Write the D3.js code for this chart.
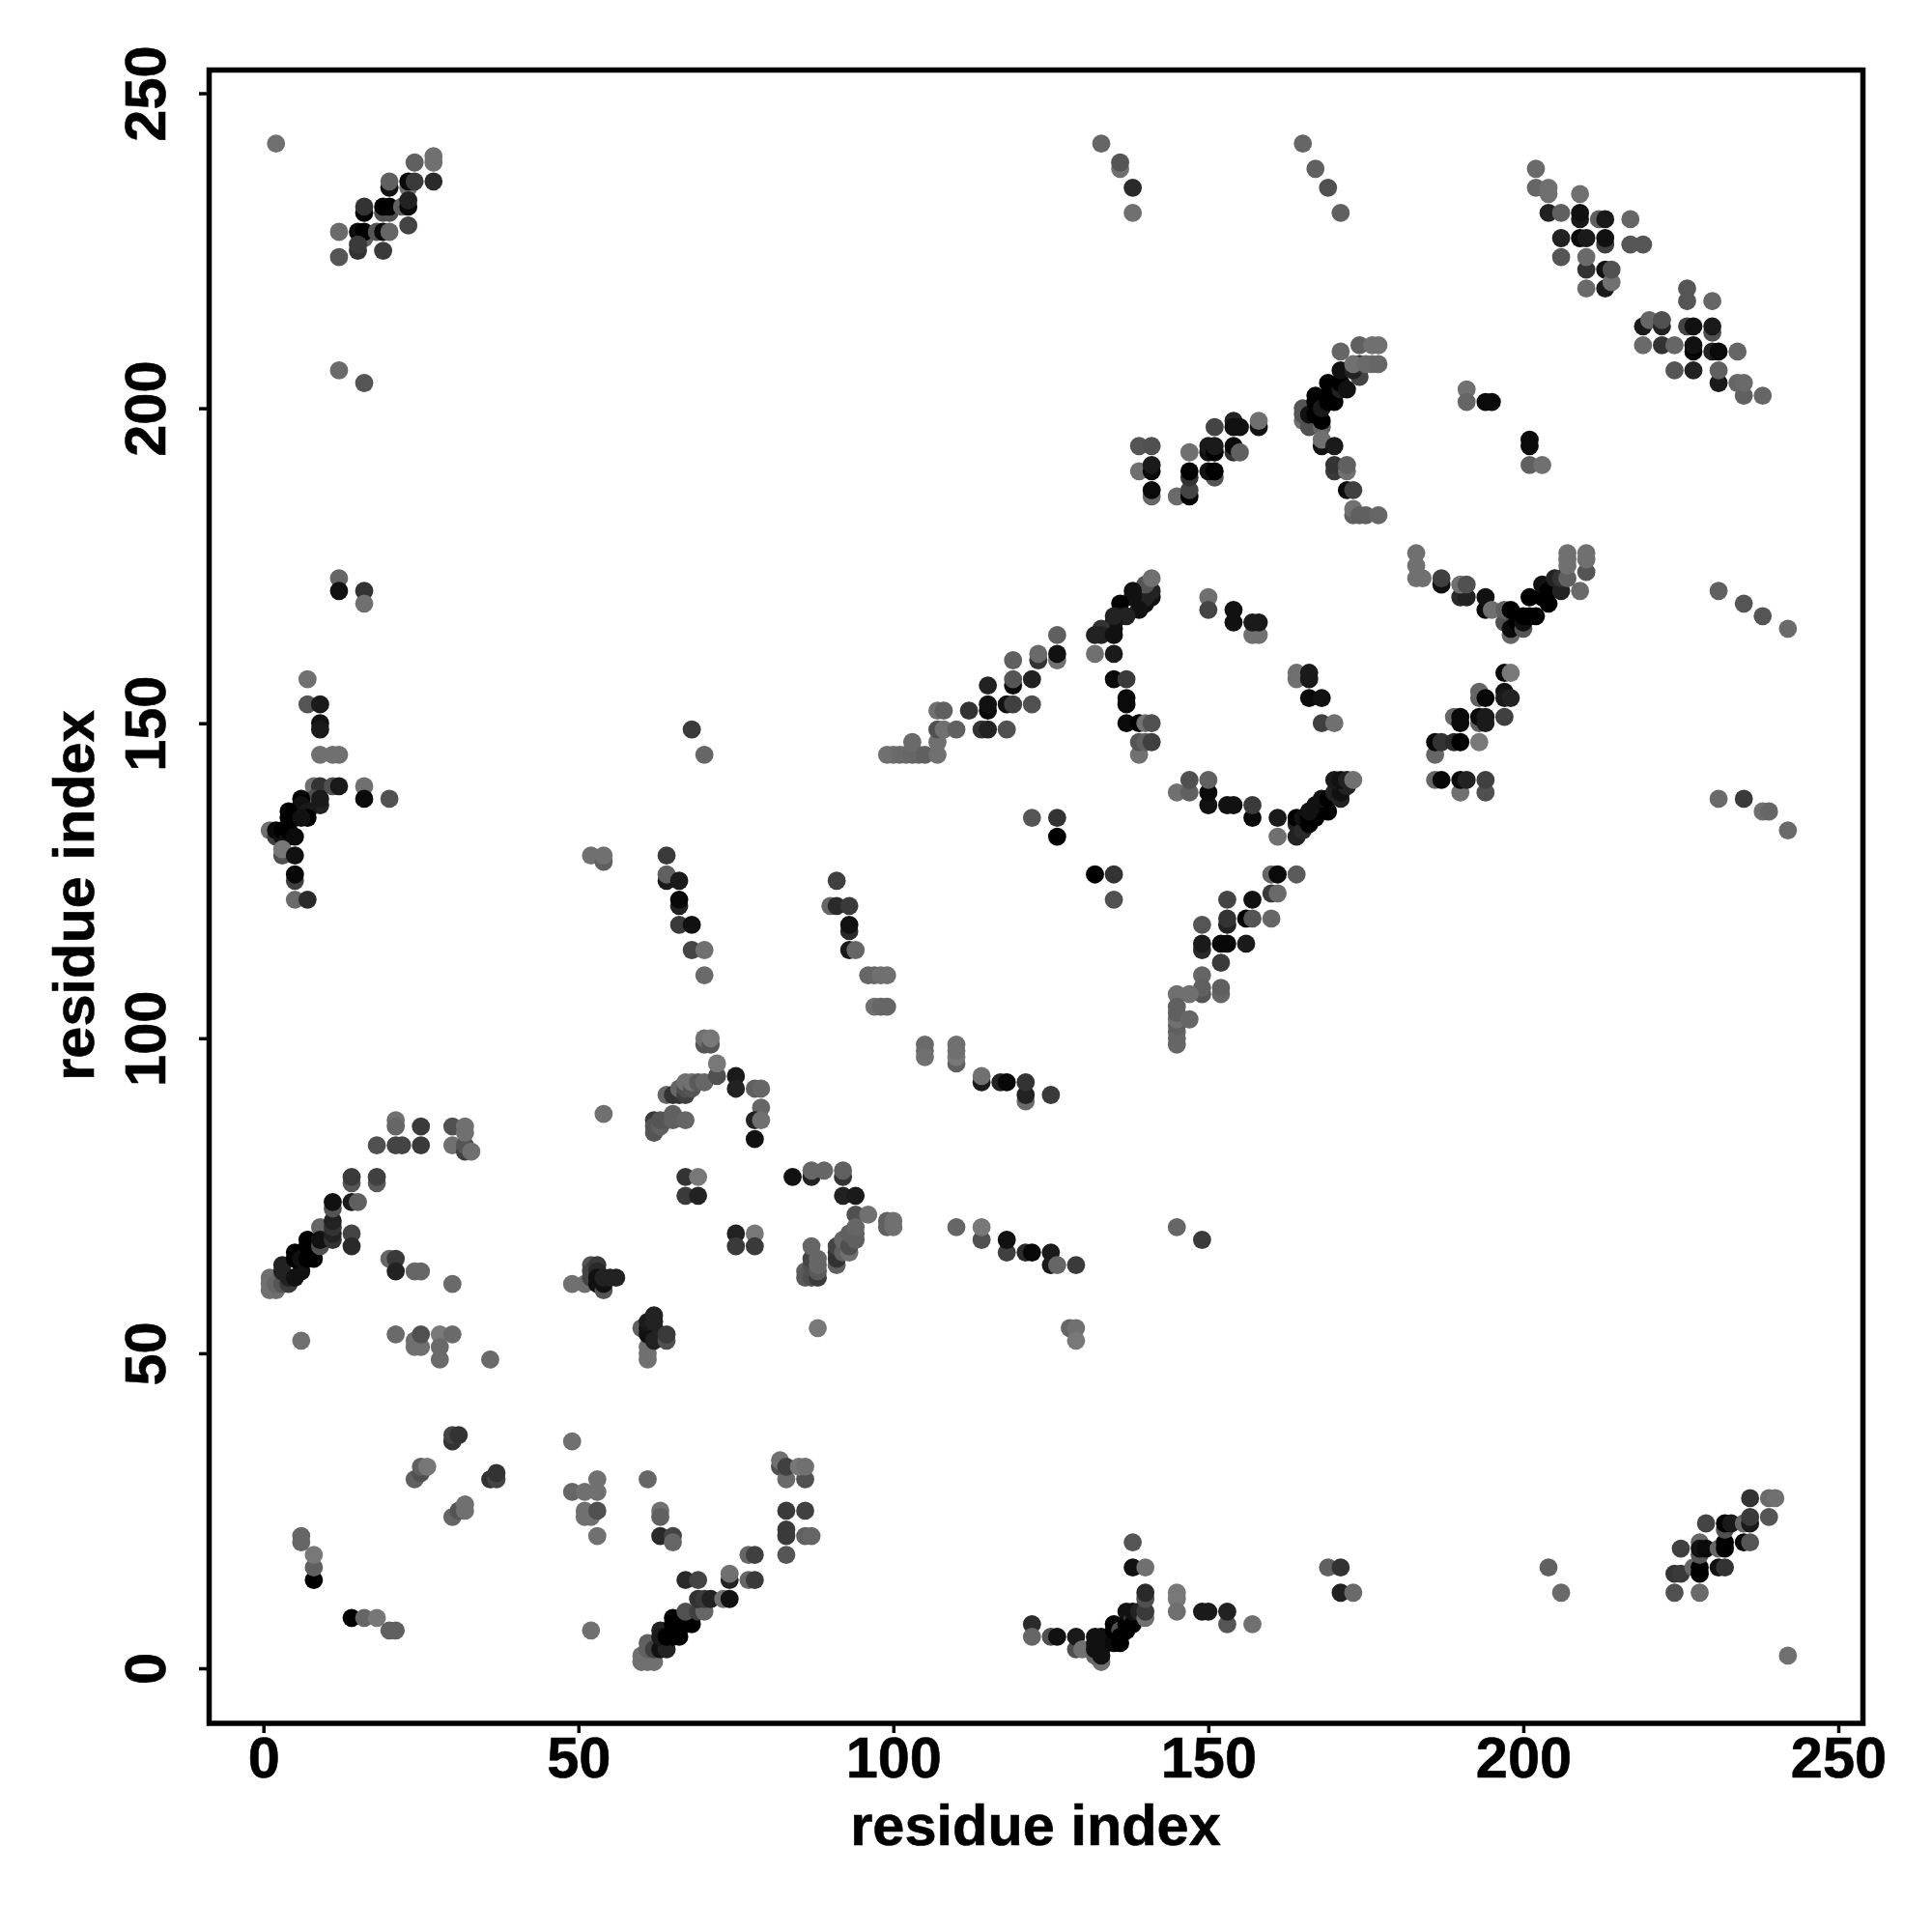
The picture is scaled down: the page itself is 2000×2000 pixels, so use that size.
<!DOCTYPE html>
<html><head><meta charset="utf-8">
<script src="https://cdn.jsdelivr.net/npm/d3@7"></script>
<style>html,body{margin:0;padding:0;background:#fff}svg{display:block}</style>
</head><body><svg id="c" width="2000" height="2000"></svg>
<script>
// each contact: [residue i, residue j, grey level]
const bottomLeft=[[8,14,0],[8,16,0x60],[8,18,0x78],[6,21,0x66],[6,20,0x66],[14,8,0],[16,8,0x66],[18,8,0x77],[20,6,0x60],[21,6,0x60],
[24,30,0x60],[25,31,0x50],[25,32,0x60],[26,32,0x77],[30,24,0x66],[31,25,0x55],[32,26,0x70],[32,25,0x70],[30,36,0x33],[30,37,0x44],[31,37,0x33],[36,30,0x33],[37,30,0x44],[37,31,0x33],
[49,28,0x66],[49,36,0x70],[51,28,0x70],[53,28,0x70],[53,30,0x70],[51,25,0x70],[51,24,0x70],[52,24,0x70],[53,25,0x50],[53,21,0x70],[52,6,0x70],
[61,30,0x66],[63,25,0x70],[63,24,0x60],[63,21,0x2a],[65,21,0x44],[65,20,0x66]];
const diagBottom=[[60,1,0x70],[61,1,0x70],[62,1,0x70],[60,2,0x70],[61,4,0x60],[61,3,0x60],[62,3,0x40],[63,3,0x11],[64,3,0x22],[63,6,0x22],[63,5,0x1a],[64,5,0],[65,5,0],[66,5,0],[65,8,0],[65,7,0],[66,7,0],[67,7,0],[68,7,0],[68,8,0],[67,9,0x50],[69,9,0x40],[70,9,0x66],
[69,11,0x33],[70,11,0x3a],[71,11,0x22],[73,11,0x70],[74,11,0x11],[67,14,0x2a],[69,14,0x44],[74,14,0x22],[74,15,0x70],[77,18,0x66],[78,18,0x40],[77,14,0x66],[78,14,0x3a]];
const row50=[[6,52,0x70],[21,53,0x6a],[24,52,0x70],[24,51,0x70],[25,51,0x70],[25,53,0x50],[28,53,0x78],[30,53,0x6a],[28,51,0x6a],[28,49,0x6a],[36,49,0x6a],
[61,49,0x70],[61,50,0x70],[61,51,0x70],[60,54,0x60],[61,54,0x11],[61,53,0x11],[62,54,0x11],[62,53,0x11],[62,52,0x22],[61,55,0x1a],[62,55,0x22],[62,56,0x22],[63,53,0x22],[64,52,0x50],[64,53,0x3a]];
const diagLeft=[[1,62,0x70],[1,61,0x70],[1,60,0x70],[2,60,0x70],[2,61,0x66],[3,61,0x55],[4,61,0x3a],[3,64,0x22],[3,63,0x22],[4,62,0x22],[5,62,0x11],[6,63,0x11],[5,66,0],[5,65,0],[6,65,0x11],[7,65,0],[8,65,0],[7,68,0],[7,67,0],[8,67,0],[9,67,0x50],[9,70,0x66],[9,68,0x11],
[11,68,0x33],[11,69,0x22],[11,70,0x33],[11,71,0x22],[11,73,0x55],[11,74,0x11],[14,74,0x1a],[15,74,0x60],[14,69,0x44],[14,67,0x2a],[14,77,0x55],[14,78,0x3a],[18,77,0x5a],[18,78,0x40],
[18,83,0x50],[21,83,0x44],[22,83,0x44],[25,83,0x3a],[25,86,0x3a],[21,87,0x70],[21,86,0x66],[30,86,0x50],[30,83,0x70],[32,82,0x40],[32,83,0x55],[33,82,0x70],[32,86,0x70],[32,85,0x70],
[20,65,0x66],[21,65,0x3a],[21,63,0x22],[24,63,0x66],[25,63,0x66],[30,61,0x6a]];
const cluster60=[[49,61,0x70],[51,61,0x70],[52,64,0x55],[52,63,0x44],[52,62,0x44],[53,64,0x3a],[53,63,0x2a],[53,61,0x11],[54,60,0x55],[54,61,0x11],[53,62,0x11],[54,62,0x22],[55,62,0x22],[56,62,0x22],
[54,88,0x70],[62,87,0x3a],[62,85,0x55],[62,86,0x55],[63,86,0x60],[63,87,0x55],[64,87,0x55],[65,88,0x60],[65,87,0x60],[67,87,0x66],
[64,91,0x66],[65,91,0x33],[66,91,0x33],[66,92,0x66],[67,91,0x40],[67,92,0x50],[67,93,0x70],[68,92,0x55],[68,93,0x70],[69,93,0x5a],[70,93,0x66],[72,94,0x50],[72,96,0x78],[70,99,0x55],[70,100,0x70],[71,99,0x55],[71,100,0x78],
[75,94,0x1a],[75,92,0x22],[78,92,0x60],[79,92,0x66],[79,89,0x66],[78,87,0x22],[79,87,0x70],[78,84,0x11],[67,78,0x33],[69,78,0x78],[67,75,0x3a],[69,75,0x22],[75,69,0x22],[78,69,0x78],[75,67,0x3a],[78,67,0x3a]];
const middle=[[70,110,0x6a],[96,110,0x66],[97,110,0x66],[98,110,0x70],[99,110,0x70],[97,105,0x70],[98,105,0x66],[99,105,0x66],[105,99,0x6a],[105,98,0x6a],[105,97,0x70],[110,96,0x60],[110,97,0x78],[110,98,0x70],[110,99,0x70],
[114,93,0x1a],[114,94,0x70],[117,93,0x22],[118,93,0x08],[121,90,0x6a],[121,91,0x22],[121,93,0x33],[125,91,0x3a],
[84,78,0x11],[87,78,0x22],[87,79,0x66],[89,79,0x66],[92,78,0x33],[92,79,0x60],[92,75,0x22],[94,75,0x1a],[94,72,0x50],[96,72,0x70],[99,71,0x60],[99,70,0x60],[100,71,0x70],[100,70,0x70],
[86,63,0x60],[86,62,0x5a],[87,62,0x50],[87,64,0x50],[87,65,0x44],[87,67,0x66],[88,62,0x3a],[88,63,0x5a],[88,64,0x66],[88,65,0x66],[91,64,0x60],[91,65,0x33],[91,66,0x33],[91,67,0x44],[92,66,0x60],[92,68,0x66],[93,66,0x70],[93,67,0x50],[93,69,0x60],[94,68,0x60],[94,69,0x60],[94,70,0x66],
[110,70,0x66],[114,68,0x50],[114,70,0x78],[118,66,0x40],[118,68,0x11],[121,66,0x2a],[122,66,0x08],[125,66,0x1a],[125,64,0x1a],[126,64,0x66],[129,64,0x3a],
[88,54,0x78],[128,54,0x66],[129,54,0x70],[129,52,0x78],[145,70,0x66],[149,68,0x3a]];
const bottomMid=[[83,25,0x3a],[86,25,0x40],[83,22,0x3a],[83,21,0x3a],[83,18,0x55],[86,21,0x60],[87,21,0x66],[82,32,0x50],[82,33,0x70],[83,30,0x6a],[83,32,0x40],[86,30,0x50],[85,32,0x78],[86,32,0x70],
[122,7,0x2a],[122,5,0x66],[125,5,0x50],[126,5,0x11],[129,3,0x50],[129,5,0x1a],[130,3,0x70],[133,1,0x70],[132,2,0x66],[132,3,0x11],[132,4,0x11],[132,5,0x11],[133,2,0x11],[133,3,0x11],[133,5,0x11],
[135,4,0x0a],[135,6,0],[135,7,0],[136,6,0x50],[136,4,0],[136,5,0],[137,6,0],[137,7,0],[137,9,0x11],[138,8,0x40],[138,7,0],[138,9,0x11],[139,9,0x22],[140,8,0x70],[140,9,0x3a],[140,11,0x50],[140,12,0x2a],[138,20,0x55],[138,16,0x11],[140,16,0x70],
[145,12,0x78],[145,11,0x78],[145,9,0x70],[149,9,0x1a],[150,9,0x1a],[153,7,0x55],[153,9,0x22],[157,7,0x70],[169,16,0x60],[171,16,0x33],[171,12,0x22],[173,12,0x6a]];
const bottomRight=[[204,16,0x60],[206,12,0x6a],[224,12,0x50],[228,12,0x6a],[224,15,0x33],[225,15,0x3a],[225,19,0x40],[227,16,0x66],[228,15,0],[228,16,0],[228,20,0x66],[228,18,0x55],[228,19,0x11],[229,19,0x0a],[229,23,0x44],[231,16,0x11],[232,16,0x33],[231,19,0x66],[232,19,0],[232,20,0],[232,22,0x50],[232,23,0],[233,23,0x1a],[235,23,0x66],[235,20,0x0a],[236,20,0x55],[236,23,0x1a],[236,24,0x3a],[236,27,0x33],[239,24,0x55],[239,27,0x6a],[240,27,0x70],[242,2,0x70]];
const left135=[[7,157,0x70],[7,153,0x55],[9,153,0x1a],[9,150,0x11],[9,149,0x1a],[9,145,0x70],[11,145,0x70],[12,145,0x70],[8,140,0x70],[9,140,0x33],[11,140,0x50],[12,140,0x1a],[16,140,0x70],[16,138,0x0a],[20,138,0x50],
[8,138,0x50],[8,137,0x50],[9,137,0x22],[9,138,0x1a],[6,138,0],[6,137,0x11],[7,136,0x1a],[7,135,0],[4,136,0],[4,135,0],[5,135,0],[6,135,0x11],[1,133,0x70],[2,132,0x40],[2,133,0x0a],[3,132,0x11],[3,133,0],[4,132,0x11],[4,133,0],[5,132,0x0a],
[3,129,0x50],[3,130,0x78],[5,129,0x11],[5,125,0x40],[5,126,0x08],[5,122,0x6a],[7,122,0x2a],
[52,129,0x70],[54,128,0x60],[54,129,0x70],[64,129,0x3a],[64,125,0x1a],[64,126,0x60],[66,125,0x1a],[66,121,0x22],[66,122,0x08],[66,118,0x3a],[68,118,0x11],[68,114,0x44],[70,114,0x70],[68,149,0x3a],[70,145,0x66]];
const center=[[91,125,0x40],[90,121,0x66],[91,121,0x2a],[93,121,0x3a],[93,117,0x2a],[93,118,0x11],[93,114,0x1a],[94,114,0x66],
[99,145,0x70],[100,145,0x70],[101,145,0x6a],[102,145,0x6a],[103,145,0x66],[104,145,0x66],[105,145,0x60],[107,145,0x70],[103,147,0x6a],[107,147,0x70],[107,149,0x50],[108,149,0x70],[110,149,0x60],[107,152,0x70],[108,152,0x60],
[112,152,0x33],[115,152,0x0a],[115,153,0x11],[115,156,0x22],[114,149,0x33],[115,149,0x22],[118,149,0x50],[118,153,0x11],[119,153,0x40],[122,153,0x50],[119,156,0x0a],[119,157,0x55],[122,157,0x22],[119,160,0x60],[123,160,0x33],[123,161,0x6a],[126,160,0x70],[126,161,0x11],[126,164,0x60],
[122,135,0x55],[126,135,0x33],[126,132,0],[132,126,0],[135,126,0x33],[135,122,0x50],
[135,157,0x0a],[137,157,0x3a],[137,153,0x0a],[137,154,0x0a],[137,150,0x0a],[139,150,0],[140,150,0x70],[141,150,0x50],[139,145,0x70],[139,147,0x55],[140,147,0x60],[141,147,0x40],
[145,139,0x70],[147,139,0x60],[147,141,0x50],[150,137,0x11],[150,139,0x0a],[150,141,0x60],[153,137,0x11],[154,137,0x11],[157,135,0x0a],[157,137,0x3a],[161,132,0x70],[161,135,0x1a],
[164,132,0x22],[164,134,0x22],[164,135,0],[165,133,0x2a],[165,135,0x11],[166,134,0],[166,135,0],[167,135,0],[166,136,0x11],[167,137,0x11],[169,136,0],[168,138,0x11],[169,138,0],[170,139,0x22],[171,138,0x22],[171,139,0x11],[172,140,0x22],[170,141,0x1a],[171,141,0x11],[172,141,0x22],[173,141,0x70],
[149,118,0x55],[149,114,0x2a],[149,115,0x1a],[152,115,0x0a],[153,115,0x08],[156,115,0x1a],[152,112,0x3a],[153,122,0x44],[157,122,0x11],[153,118,0x22],[153,119,0x33],[156,119,0],[157,119,0x55],[160,119,0x66],[160,123,0x3a],[161,123,0x6a],[160,126,0x66],[161,126,0x0a],[164,126,0x5a],
[149,110,0x66],[152,107,0x66],[152,108,0x60],[149,107,0x55],[149,108,0x60],[145,107,0x70],[147,107,0x70],[145,99,0x66],[145,100,0x66],[145,101,0x66],[145,102,0x60],[145,103,0x70],[145,104,0x60],[145,105,0x60],[147,103,0x66],
[164,157,0x70],[164,158,0x70],[166,157,0x1a],[166,158,0x1a],[166,154,0x0a],[168,154,0x11],[168,150,0x40],[170,150,0x70]];
const upperMid=[[141,170,0x11],[141,171,0x22],[140,169,0x11],[140,170,0x22],[140,172,0x55],[141,173,0x70],[138,170,0x11],[138,171,0x11],[139,168,0x11],[136,169,0],[136,167,0x11],[137,167,0x22],[135,165,0x0a],[135,166,0x11],[135,167,0x22],[133,165,0x33],[133,164,0x22],[132,164,0x22],[135,164,0x11],[132,161,0x70],[135,161,0x1a],
[150,170,0x70],[150,168,0x44],[154,168,0x11],[154,166,0x11],[157,164,0x70],[158,164,0x70],[157,166,0x1a],[158,166,0x1a],
[139,194,0x55],[141,194,0x50],[139,190,0x70],[141,190,0x0a],[141,191,0x1a],[141,186,0x66],[141,187,0x0a],[145,186,0x6a],[147,186,0],[147,187,0x44],[147,189,0x33],[147,190,0],[147,193,0x70],[150,193,0x11],[150,194,0x1a],[151,189,0x55],[150,190,0x11],[151,190,0],[151,193,0],[151,194,0x1a],[151,197,0x44],[154,198,0x22],[154,197,0x11],[155,197,0x11],[154,193,0x33],[154,194,0x0a],[155,193,0x60],[158,197,0x11],[158,198,0x70]];
const arcUpper=[[165,198,0x70],[165,199,0x55],[165,200,0x55],[166,197,0x50],[166,199,0x11],[167,199,0],[167,201,0],[167,202,0],[168,197,0x66],[168,198,0],[168,200,0x1a],[169,201,0],[169,202,0],[169,204,0],[170,201,0],[171,203,0x22],[171,204,0],[171,206,0x11],[172,203,0x11],[174,205,0x44],[173,206,0x22],[174,207,0x33],[173,207,0x70],[175,207,0x6a],[176,207,0x6a],[177,207,0x66],[171,209,0x66],[174,210,0x60],[176,210,0x70],[177,210,0x70],
[168,194,0x11],[168,195,0x70],[170,194,0x1a],[170,190,0x3a],[170,191,0x33],[172,190,0x70],[172,191,0x60],[172,187,0x0a],[173,187,0x40],[173,183,0x60],[173,184,0x70],[174,183,0x60],[175,183,0x60],[177,183,0x66],
[191,203,0x70],[191,201,0x66],[194,201,0x0a],[195,201,0x0a],[201,195,0x0a],[201,194,0x0a],[201,191,0x60],[203,191,0x70]];
const arcV=[[183,177,0x70],[183,175,0x70],[183,173,0x70],[184,173,0x70],[187,172,0x11],[187,173,0x40],[190,170,0x2a],[191,170,0x22],[190,172,0x70],[191,172,0x50],[194,168,0x0a],[194,170,0x11],[195,168,0x70],[198,164,0x66],[197,166,0x50],[197,168,0x60],[198,165,0x0a],[198,168,0],[199,166,0],[200,165,0x55],[200,166,0x11],[200,167,0],[201,167,0],[201,170,0],[202,167,0],[203,170,0],[203,172,0x11],[204,169,0],[204,171,0],[206,171,0x22],[205,173,0x22],[206,173,0x33],[209,171,0x6a],[207,173,0x60],[207,175,0x70],[207,176,0x70],[207,177,0x70],[210,174,0x55],[210,176,0x70],[210,177,0x70],
[197,158,0x0a],[198,158,0x78],[193,154,0x60],[193,155,0x66],[194,154,0x08],[197,155,0x11],[197,154,0x1a],[198,154,0x22],[197,151,0x40],[189,151,0x66],[190,150,0x0a],[190,151,0x0a],[193,150,0x60],[193,151,0x0a],[194,150,0x1a],[194,151,0x1a],[186,145,0x66],[186,147,0x08],[187,147,0x33],[189,147,0x2a],[190,147,0],[193,147,0x78],[186,141,0x66],[187,141,0x08],[190,139,0x70],[190,141,0x0a],[191,141,0x22],[194,139,0x50],[194,141,0x40],
[231,171,0x60],[235,169,0x55],[238,167,0x55],[242,165,0x6a],[231,138,0x6a],[235,138,0x3a],[238,136,0x70],[239,136,0x66],[242,133,0x6a]];
const topRight=[[202,238,0x6a],[202,235,0x66],[204,234,0x70],[204,235,0x70],[209,234,0x70],[204,231,0x22],[206,231,0x60],[209,230,0x1a],[209,231,0x11],[212,230,0x60],[213,230,0x1a],[217,230,0x66],[206,227,0x22],[209,227,0x0a],[210,227,0x1a],[213,226,0x40],[213,227,0x11],[217,226,0x55],[219,226,0x55],[206,224,0x55],[210,222,0x33],[210,224,0x6a],[213,222,0x11],[213,219,0x1a],[214,220,0x70],[214,222,0x50],[210,219,0x6a],
[226,219,0x55],[226,217,0x55],[230,217,0x66],[219,213,0x1a],[220,214,0x66],[222,213,0x22],[222,214,0x50],[226,213,0x44],[227,213,0x11],[230,212,0x50],[230,213,0x1a],[219,210,0x6a],[222,210,0x33],[224,210,0x66],[227,209,0],[227,210,0x11],[230,209,0x22],[231,209,0x0a],[234,209,0x66],[224,206,0x55],[227,206,0x22],[231,204,0x1a],[231,206,0x60],[234,204,0x66],[235,202,0x60],[235,204,0x6a],[238,202,0x66]];
const topLeft=[[2,242,0x70],[12,206,0x6a],[16,204,0x55],[12,173,0x66],[12,171,0x11],[16,171,0x33],[16,169,0x70],
[12,228,0x6a],[12,224,0x55],[15,228,0x0a],[16,227,0x60],[16,228,0],[15,225,0x33],[15,226,0x3a],[16,231,0],[16,232,0x33],[19,231,0x50],[20,231,0x50],[19,232,0],[20,232,0],[18,228,0x55],[19,228,0x0a],[20,228,0x66],[19,225,0x3a],[20,235,0x11],[20,236,0x60],[23,235,0x70],[23,236,0x0a],[24,236,0x3a],[22,232,0x60],[23,232,0x0a],[23,233,0x22],[23,229,0x44],[24,239,0x60],[27,236,0x2a],[27,239,0x70],[27,240,0x70]];
const topMid=[[133,242,0x66],[136,238,0x70],[136,239,0x55],[138,235,0x2a],[138,231,0x70],[165,242,0x66],[167,238,0x60],[169,235,0x50],[171,231,0x60]];

const groups=[bottomLeft,diagBottom,row50,diagLeft,cluster60,middle,bottomMid,bottomRight,left135,center,upperMid,arcUpper,arcV,topRight,topLeft,topMid];
const tickValues=[0,50,100,150,200,250];
const axisTitle="residue index";

const x=d3.scaleLinear().domain([0,250]).range([272.7,1903]);
const y=d3.scaleLinear().domain([0,250]).range([1727,96.5]);
const svg=d3.select("#c");
svg.append("g").selectAll("circle").data(groups.flat()).join("circle")
  .attr("cx",d=>x(d[0])).attr("cy",d=>y(d[1])).attr("r",9.4)
  .attr("fill",d=>d3.rgb(d[2],d[2],d[2]).formatHex());
svg.append("rect").attr("x",216.5).attr("y",72.5).attr("width",1712).attr("height",1711.5)
  .attr("fill","none").attr("stroke","#000").attr("stroke-width",5.5);
const font="'Liberation Sans',Arial,sans-serif";
const fontSize=59.5;
const ax=svg.append("g").attr("transform","translate(0,1786)")
  .call(d3.axisBottom(x).tickValues(tickValues).tickSize(8).tickPadding(0));
const ay=svg.append("g").attr("transform","translate(214,0)")
  .call(d3.axisLeft(y).tickValues(tickValues).tickSize(8).tickPadding(0));
[ax,ay].forEach(a=>{a.select(".domain").remove();
  a.selectAll("line").attr("stroke","#000").attr("stroke-width",3.5);
  a.selectAll("text").attr("fill","#000").attr("font-family",font).attr("font-size",fontSize).attr("font-weight","bold").attr("stroke","#000").attr("stroke-width",0.6);});
ax.selectAll("text").attr("y",54).attr("dy",0);
ay.selectAll("text").attr("x",0).attr("y",0).attr("dy",0).attr("text-anchor","middle")
  .attr("transform","translate(-43,0) rotate(-90)");
svg.append("text").attr("x",1072).attr("y",1910).attr("text-anchor","middle").attr("stroke","#000").attr("stroke-width",0.6)
  .attr("font-family",font).attr("font-size",fontSize).attr("font-weight","bold").text(axisTitle);
svg.append("text").attr("transform","translate(97,927) rotate(-90)").attr("text-anchor","middle").attr("stroke","#000").attr("stroke-width",0.6)
  .attr("font-family",font).attr("font-size",fontSize).attr("font-weight","bold").text(axisTitle);
</script></body></html>
